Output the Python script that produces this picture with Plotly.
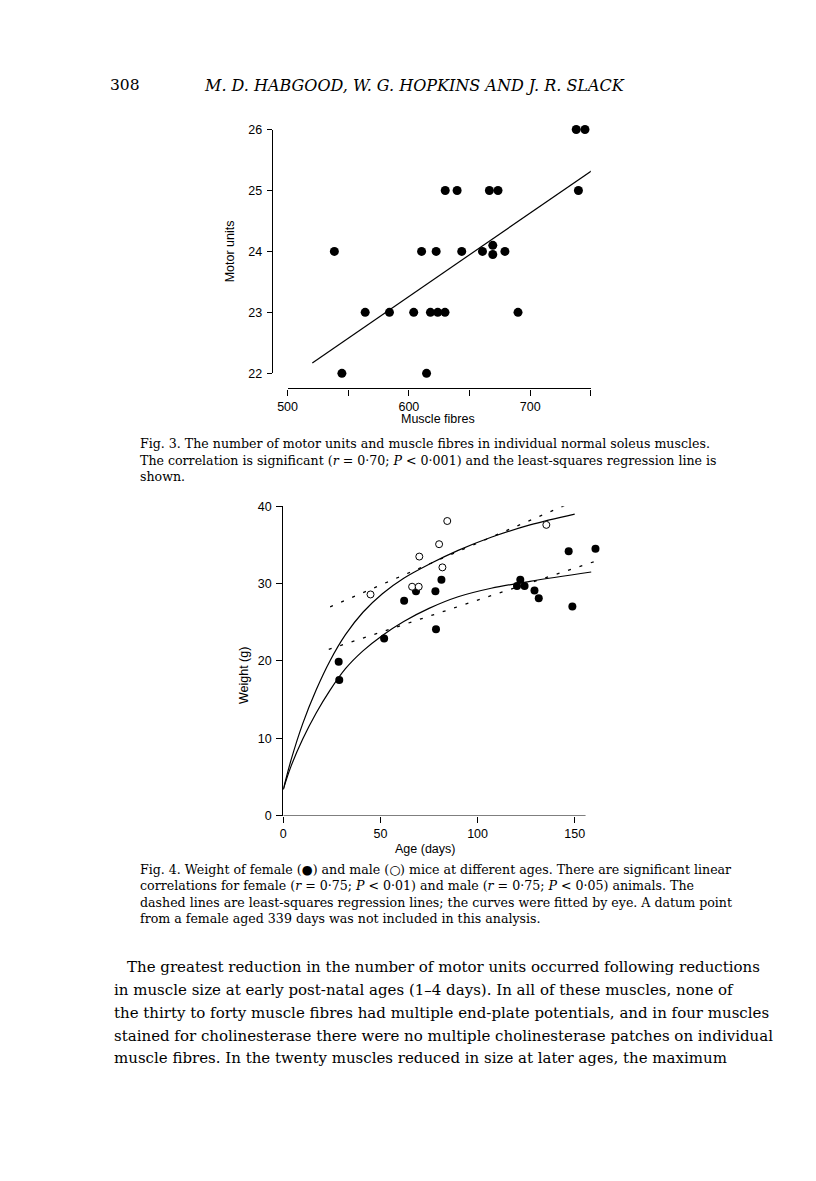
import plotly.graph_objects as go

W, H = 816, 1181

# ---------- Fig. 3 data ----------
fibres = [538.6, 544.8, 564, 584, 604, 610.5, 614.6, 617.8, 622.5, 623.8, 629.8, 630,
          639.8, 643.6, 660.7, 666.4, 669.2, 669.2, 673.5, 679.2, 690, 738, 739.8, 745.2]
motor_units = [24, 22, 23, 23, 23, 24, 22, 23, 24, 23, 23, 25,
               25, 24, 24, 25, 24.1, 23.95, 25, 24, 23, 26, 25, 26]
reg3_x = [520.4, 758.5]
reg3_y = [22.17, 25.43]
fig3_xticks = [500, 550, 600, 650, 700, 750]
fig3_xticklabels = ["500", "", "600", "", "700", ""]
fig3_yticks = [22, 23, 24, 25, 26]

# ---------- Fig. 4 data ----------
female_age = [28.5, 28.8, 51.9, 62.2, 68.3, 78.3, 78.6, 81.4, 120.3, 122.0, 124.2,
              129.3, 131.5, 146.9, 148.8, 160.7]
female_wt = [19.9, 17.55, 22.9, 27.8, 29.0, 29.0, 24.1, 30.5, 29.7, 30.5, 29.7,
             29.1, 28.1, 34.2, 27.05, 34.5]
male_age = [44.9, 66.3, 69.7, 70.0, 80.2, 81.9, 84.4, 135.4]
male_wt = [28.6, 29.6, 29.6, 33.5, 35.1, 32.1, 38.1, 37.6]

male_curve_x = [0, 4, 10, 17, 24, 32, 41, 51, 62, 75, 90, 107, 127, 150]
male_curve_y = [3.4, 7.2, 11.9, 16.3, 20.0, 23.4, 26.3, 28.7, 30.7, 32.5, 34.3, 36.0, 37.6, 39.0]
female_curve_x = [0, 4, 10, 17, 24, 32, 41, 51, 62, 75, 90, 107, 127, 158.5]
female_curve_y = [3.4, 6.4, 9.9, 13.3, 16.2, 19.0, 21.3, 23.3, 25.1, 26.8, 28.3, 29.4, 30.3, 31.5]

male_reg_x = [24.1, 146.1]
male_reg_y = [27.0, 40.25]
female_reg_x = [23.4, 160.7]
female_reg_y = [21.5, 32.9]

fig4_xticks = [0, 50, 100, 150]
fig4_yticks = [0, 10, 20, 30, 40]
fig4_xaxis_end = 155.6      # where the drawn x-axis line stops (days)
fig4_xrange_max = 163       # plotting range, so the 160-day point is drawn


def px(x):
    return x / W


def py(y):
    return 1 - y / H


fig = go.Figure()

# Fig 3 traces
fig.add_trace(go.Scatter(x=reg3_x, y=reg3_y, mode="lines",
                         line=dict(color="black", width=1.2),
                         xaxis="x", yaxis="y", showlegend=False, cliponaxis=False))
fig.add_trace(go.Scatter(x=fibres, y=motor_units, mode="markers",
                         marker=dict(color="black", size=9),
                         xaxis="x", yaxis="y", showlegend=False, cliponaxis=False))

# Fig 4 traces
fig.add_trace(go.Scatter(x=male_curve_x, y=male_curve_y, mode="lines",
                         line=dict(color="black", width=1.2, shape="spline", smoothing=1.0),
                         xaxis="x2", yaxis="y2", showlegend=False, cliponaxis=False))
fig.add_trace(go.Scatter(x=female_curve_x, y=female_curve_y, mode="lines",
                         line=dict(color="black", width=1.2, shape="spline", smoothing=1.0),
                         xaxis="x2", yaxis="y2", showlegend=False, cliponaxis=False))
fig.add_trace(go.Scatter(x=male_reg_x, y=male_reg_y, mode="lines",
                         line=dict(color="black", width=1.3, dash="3px,9px"),
                         xaxis="x2", yaxis="y2", showlegend=False, cliponaxis=False))
fig.add_trace(go.Scatter(x=female_reg_x, y=female_reg_y, mode="lines",
                         line=dict(color="black", width=1.3, dash="3px,9px"),
                         xaxis="x2", yaxis="y2", showlegend=False, cliponaxis=False))
fig.add_trace(go.Scatter(x=female_age, y=female_wt, mode="markers",
                         marker=dict(color="black", size=8),
                         xaxis="x2", yaxis="y2", showlegend=False, cliponaxis=False))
fig.add_trace(go.Scatter(x=male_age, y=male_wt, mode="markers",
                         marker=dict(color="white", size=7, line=dict(color="black", width=1)),
                         xaxis="x2", yaxis="y2", showlegend=False, cliponaxis=False))

tickfont = dict(family="Liberation Sans, Arial, sans-serif", size=12.5, color="black")
common = dict(showgrid=False, zeroline=False, showline=True, linecolor="black",
              linewidth=1.3, ticks="outside", tickcolor="black", tickwidth=1.2,
              tickfont=tickfont)

x2_left = 276.7
x2_px_per_day = (571.7 - 276.7) / 150.0
x2_right = x2_left + fig4_xrange_max * x2_px_per_day

fig.update_layout(
    width=W, height=H,
    margin=dict(l=0, r=0, t=0, b=0),
    paper_bgcolor="white", plot_bgcolor="white",
    showlegend=False,
    xaxis=dict(domain=[px(281), px(588)], range=[500, 750], anchor="free",
               position=py(386), tickvals=fig3_xticks, ticktext=fig3_xticklabels,
               ticklen=6, **common),
    yaxis=dict(domain=[py(370.7), py(124)], range=[22, 26], anchor="free",
               position=px(265), tickvals=fig3_yticks, ticklen=5,
               ticklabelstandoff=2, **common),
    xaxis2=dict(domain=[px(x2_left), px(x2_right)], range=[0, fig4_xrange_max], anchor="y2",
                tickvals=fig4_xticks, ticklen=6,
                **{**common, "showline": False}),
    yaxis2=dict(domain=[py(818.3), py(505.3)], range=[0, 40], anchor="x2",
                tickvals=fig4_yticks, ticklen=6, ticklabelstandoff=2, **common),
)

# x-axis line of Fig. 4 stops short of the plotting range
fig.add_shape(type="line", xref="x2", yref="y2", x0=0, x1=fig4_xaxis_end, y0=0, y1=0,
              line=dict(color="black", width=1.3), layer="above")

serif = "DejaVu Serif, Liberation Serif, serif"
sans = "Liberation Sans, Arial, sans-serif"
annotations = []


def add_text(text, x, y, size, family=serif, xanchor="left", angle=0, yanchor="middle"):
    annotations.append(dict(text=text, x=px(x), y=py(y), xref="paper", yref="paper",
                            xanchor=xanchor, yanchor=yanchor, showarrow=False,
                            textangle=angle, font=dict(family=family, size=size, color="black")))


# Header
add_text("308", 99, 79, 15.5)
add_text("<i>M. D. HABGOOD, W. G. HOPKINS AND J. R. SLACK</i>", 410, 79, 16, xanchor="center")

# Fig 3 axis titles
add_text("Motor units", 223, 247, 12.5, family=sans, xanchor="center", angle=-90)
add_text("Muscle fibres", 433, 417, 12.5, family=sans, xanchor="center")

# Fig 3 caption
cap3 = [
    "Fig. 3. The number of motor units and muscle fibres in individual normal soleus muscles.",
    "The correlation is significant (<i>r</i> = 0·70; <i>P</i> &lt; 0·001) and the least-squares regression line is",
    "shown.",
]
for i, line in enumerate(cap3):
    add_text(line, 130, 442 + i * 16.7, 12.6)

# Fig 4 axis titles
add_text("Weight (g)", 237, 677, 12.5, family=sans, xanchor="center", angle=-90)
add_text("Age (days)", 420, 852, 12.5, family=sans, xanchor="center")

# Fig 4 caption
cap4 = [
    "Fig. 4. Weight of female (●) and male (○) mice at different ages. There are significant linear",
    "correlations for female (<i>r</i> = 0·75; <i>P</i> &lt; 0·01) and male (<i>r</i> = 0·75; <i>P</i> &lt; 0·05) animals. The",
    "dashed lines are least-squares regression lines; the curves were fitted by eye. A datum point",
    "from a female aged 339 days was not included in this analysis.",
]
for i, line in enumerate(cap4):
    add_text(line, 130, 873 + i * 16.4, 12.6)

# Body text
body = [
    "The greatest reduction in the number of motor units occurred following reductions",
    "in muscle size at early post-natal ages (1–4 days). In all of these muscles, none of",
    "the thirty to forty muscle fibres had multiple end-plate potentials, and in four muscles",
    "stained for cholinesterase there were no multiple cholinesterase patches on individual",
    "muscle fibres. In the twenty muscles reduced in size at later ages, the maximum",
]
for i, line in enumerate(body):
    add_text(line, 116 if i == 0 else 103, 972 + i * 23, 15)

fig.update_layout(annotations=annotations)

fig.write_html(
    "out.html",
    config={"displayModeBar": False},
    post_script="document.body.style.margin='0';document.body.style.padding='0';"
                "document.documentElement.style.overflow='hidden';",
)
